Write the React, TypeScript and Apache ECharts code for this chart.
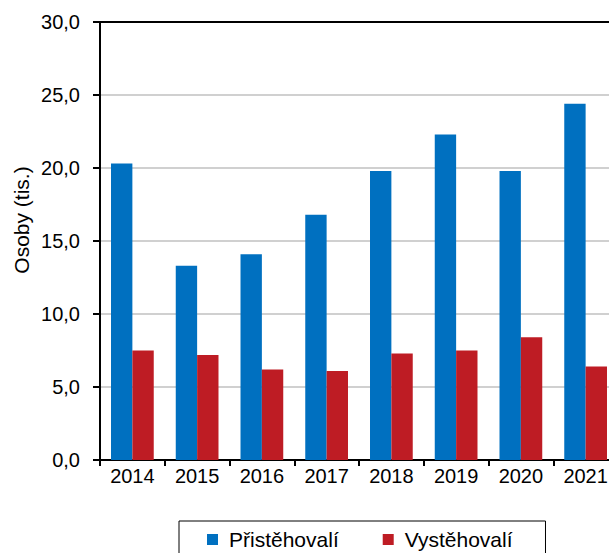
import React, { useEffect, useRef } from "react";
import * as echarts from "echarts";

const years = ["2014", "2015", "2016", "2017", "2018", "2019", "2020", "2021"];
const prist = [20.3, 13.3, 14.1, 16.8, 19.8, 22.3, 19.8, 24.4];
const vyst = [7.5, 7.2, 6.2, 6.1, 7.3, 7.5, 8.4, 6.4];
const seriesNames = ["Přistěhovalí", "Vystěhovalí"];
const yAxisTitle = "Osoby (tis.)";

const FONT = "'Liberation Sans', Arial, sans-serif";

export default function App() {
  const ref = useRef<HTMLDivElement>(null);
  useEffect(() => {
    if (!ref.current) return;
    const chart = echarts.init(ref.current, null, { renderer: "svg" });
    chart.setOption({
      animation: false,
      backgroundColor: "#fff",
      textStyle: { fontFamily: FONT },
      grid: { left: 100, top: 22, bottom: 93, right: 0, containLabel: false },
      legend: {
        data: seriesNames,
        left: 179,
        top: 521,
        orient: "horizontal",
        icon: "rect",
        itemWidth: 11,
        itemHeight: 11,
        itemGap: 44,
        padding: [8, 33, 20, 28],
        borderColor: "#000",
        borderWidth: 1,
        textStyle: { fontFamily: FONT, fontSize: 21, color: "#000", padding: [0, 0, 0, 6] },
      },
      graphic: [
        {
          type: "text",
          x: 21,
          y: 220,
          rotation: Math.PI / 2,
          style: {
            text: yAxisTitle,
            fontFamily: FONT,
            fontSize: 21,
            fill: "#000",
            textAlign: "center",
            textVerticalAlign: "middle",
          },
        },
      ],
      xAxis: [
        {
          type: "category",
          data: years,
          axisLine: { show: true, lineStyle: { color: "#000", width: 2 } },
          axisTick: { show: true, length: 6, lineStyle: { color: "#000", width: 2 } },
          axisLabel: { fontFamily: FONT, fontSize: 20, color: "#000", margin: 6 },
          splitLine: { show: false },
        },
        {
          type: "category",
          position: "top",
          data: years,
          axisLine: { show: true, lineStyle: { color: "#000", width: 2 } },
          axisTick: { show: false },
          axisLabel: { show: false },
          splitLine: { show: false },
        },
      ],
      yAxis: {
        type: "value",
        min: 0,
        max: 30,
        interval: 5,
        axisLine: { show: true, lineStyle: { color: "#000", width: 2 } },
        axisTick: { show: true, length: 7, lineStyle: { color: "#000", width: 2 } },
        axisLabel: {
          fontFamily: FONT,
          fontSize: 20,
          color: "#000",
          margin: 20,
          formatter: (v: number) => v.toFixed(1).replace(".", ","),
        },
        splitLine: { show: true, lineStyle: { color: "#d0d0d0", width: 2 } },
      },
      series: [
        {
          name: seriesNames[0],
          type: "bar",
          data: prist,
          barGap: "0%",
          barCategoryGap: "34%",
          itemStyle: { color: "#0070C0" },
        },
        {
          name: seriesNames[1],
          type: "bar",
          data: vyst,
          barGap: "0%",
          barCategoryGap: "34%",
          itemStyle: { color: "#BE1C24" },
        },
      ],
    });
    return () => chart.dispose();
  }, []);
  return (
    <div
      ref={ref}
      style={{ position: "fixed", left: 0, top: 0, width: 618, height: 553 }}
    />
  );
}
